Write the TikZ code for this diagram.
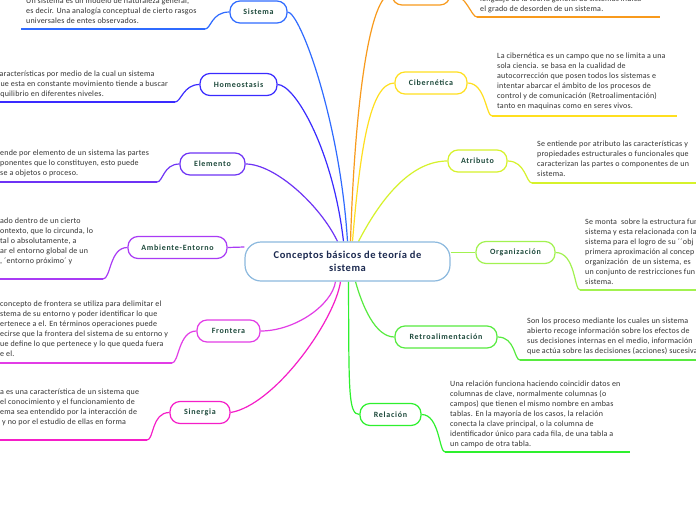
\documentclass[tikz,border=0pt]{standalone}
\usepackage{fontspec}
\setmainfont{Carlito}
\newfontfamily\descfont[LetterSpace=2.5]{Carlito}
\newfontfamily\labelfont[LetterSpace=9]{Carlito}
\newfontfamily\titlefont[LetterSpace=5]{Carlito}
\usetikzlibrary{backgrounds}
\definecolor{cSis}{HTML}{2F6BFF}
\definecolor{cHom}{HTML}{3A2BFF}
\definecolor{cEle}{HTML}{6E33F5}
\definecolor{cAmb}{HTML}{A93BF5}
\definecolor{cFro}{HTML}{E23CE6}
\definecolor{cSin}{HTML}{F51EC8}
\definecolor{cEnt}{HTML}{F89A1C}
\definecolor{cCib}{HTML}{FFDF1F}
\definecolor{cAtr}{HTML}{D6F22B}
\definecolor{cOrg}{HTML}{A2F250}
\definecolor{cRet}{HTML}{57EB3F}
\definecolor{cRel}{HTML}{2EF02E}
\definecolor{cCen}{HTML}{8CB9DE}
\definecolor{labelc}{HTML}{1E4A3C}
\definecolor{titlec}{HTML}{1C2A50}
\definecolor{descc}{HTML}{333333}
\begin{document}
\begin{tikzpicture}[x=1pt, y=-1pt,
  topic/.style={draw, fill=white, line width=1.2pt, rounded corners=10pt, minimum height=22pt,
    inner sep=0pt, font=\labelfont\fontsize{8}{9}\selectfont\bfseries, text=labelc},
  desc/.style={anchor=north west, align=left, inner sep=0pt, font=\descfont\fontsize{8}{10}\selectfont, text=descc},
  link/.style={line width=1.2pt},
  uline/.style={line width=2pt}]
\useasboundingbox (0,0) rectangle (696,520);
\clip (0,0) rectangle (696,520);
% centro
\node[draw=cCen, fill=white, line width=1.2pt, rounded corners=16pt, minimum width=205pt, minimum height=39pt,
  align=center, font=\titlefont\fontsize{10.5}{13}\selectfont\bfseries, text=titlec] (c) at (347.5,261.5)
  {Conceptos básicos de teoría de\\sistema};
% izquierda
\node[topic, draw=cSis, minimum width=57pt] (sis) at (258.5,12) {Sistema};
\node[topic, draw=cHom, minimum width=77pt] (hom) at (238.5,84.5) {Homeostasis};
\node[topic, draw=cEle, minimum width=65pt] (ele) at (212.5,164) {Elemento};
\node[topic, draw=cAmb, minimum width=99pt] (amb) at (177.5,247.5) {Ambiente-Entorno};
\node[topic, draw=cFro, minimum width=63pt] (fro) at (228.5,331) {Frontera};
\node[topic, draw=cSin, minimum width=60pt] (sin) at (200,412.5) {Sinergia};
% derecha
\node[topic, draw=cEnt, minimum width=58pt] (ent) at (421,-6) {};
\node[topic, draw=cCib, minimum width=72pt] (cib) at (431,83) {Cibernética};
\node[topic, draw=cAtr, minimum width=59pt] (atr) at (477.5,161) {Atributo};
\node[topic, draw=cOrg, minimum width=79pt] (org) at (515.5,252.5) {Organización};
\node[topic, draw=cRet, minimum width=102pt] (ret) at (446,337) {Retroalimentación};
\node[topic, draw=cRel, minimum width=61pt] (rel) at (390.5,414.5) {Relación};
% textos
\node[desc] (dsis) at (26,-2) {Un sistema es un modelo de naturaleza general,\\es decir. Una analogía conceptual de cierto rasgos\\universales de entes observados.};
\node[desc] (dhom) at (-4,71) {características por medio de la cual un sistema\\que esta en constante movimiento tiende a buscar\\equilibrio en diferentes niveles.};
\node[desc] (dele) at (0,150) {ende por elemento de un sistema las partes\\ponentes que lo constituyen, esto puede\\se a objetos o proceso.};
\node[desc] (damb) at (0,218) {ado dentro de un cierto\\ontexto, que lo circunda, lo\\tal o absolutamente, a\\ar el entorno global de un\\, ´entorno próximo´ y};
\node[desc] (dfro) at (0,301) {concepto de frontera se utiliza para delimitar el\\stema de su entorno y poder identificar lo que\\ertenece a el. En términos operaciones puede\\ecirse que la frontera del sistema de su entorno y\\ue define lo que pertenece y lo que queda fuera\\e el.};
\node[desc] (dsin) at (0,389) {a es una característica de un sistema que\\el conocimiento y el funcionamiento de\\ema sea entendido por la interacción de\\\ y no por el estudio de ellas en forma};
\node[desc] (dent) at (480,-4) {lenguaje de la teoría general de sistemas indica\\el grado de desorden de un sistema.};
\node[desc] (dcib) at (497,53) {La cibernética es un campo que no se limita a una\\sola ciencia. se basa en la cualidad de\\autocorrección que posen todos los sistemas e\\intentar abarcar el ámbito de los procesos de\\control y de comunicación (Retroalimentación)\\tanto en maquinas como en seres vivos.};
\node[desc] (datr) at (537,141) {Se entiende por atributo las características y\\propiedades estructurales o funcionales que\\caracterizan las partes o componentes de un\\sistema.};
\node[desc] (dorg) at (585,219) {Se monta \ sobre la estructura fun\\sistema y esta relacionada con la\\sistema para el logro de su ´´obj\\primera aproximación al concep\\organización \ de un sistema, es\\un conjunto de restricciones fun\\sistema.};
\node[desc] (dret) at (527,318) {Son los proceso mediante los cuales un sistema\\abierto recoge información sobre los efectos de\\sus decisiones internas en el medio, información\\que actúa sobre las decisiones (acciones) sucesivas};
\node[desc] (drel) at (450,381) {Una relación funciona haciendo coincidir datos en\\columnas de clave, normalmente columnas (o\\campos) que tienen el mismo nombre en ambas\\tablas. En la mayoría de los casos, la relación\\conecta la clave principal, o la columna de\\identificador único para cada fila, de una tabla a\\un campo de otra tabla.};
% subrayados
\coordinate (usisA) at (21,29);   \coordinate (usisB) at (205,29);
\coordinate (uhomA) at (-2,102);  \coordinate (uhomB) at (175,102);
\coordinate (ueleA) at (-2,182);  \coordinate (ueleB) at (157,182);
\coordinate (uambA) at (-2,279);  \coordinate (uambB) at (103,279);
\coordinate (ufroA) at (-2,363);  \coordinate (ufroB) at (172,363);
\coordinate (usinA) at (-2,440);  \coordinate (usinB) at (147,440);
\coordinate (uentA) at (477,17);  \coordinate (uentB) at (660,17);
\coordinate (ucibA) at (492,116); \coordinate (ucibB) at (677,116);
\coordinate (uatrA) at (532,183); \coordinate (uatrB) at (700,183);
\coordinate (uorgA) at (580,290); \coordinate (uorgB) at (700,290);
\coordinate (uretA) at (520,360); \coordinate (uretB) at (700,360);
\coordinate (urelA) at (445,452); \coordinate (urelB) at (630,452);
\begin{scope}[on background layer]
\fill[white] (0,0) rectangle (696,520);
% ramas
\draw[link, cSis] (c.north) .. controls (340,120) and (300,12) .. (sis.east);
\draw[link, cHom] ([xshift=-4pt]c.north) .. controls (333,150) and (295,84.5) .. (hom.east);
\draw[link, cEle] ([xshift=-10pt]c.north) .. controls (320,205) and (275,164) .. (ele.east);
\draw[link, cAmb] ([yshift=14.5pt]c.west) -- (amb.east);
\draw[link, cFro] ([xshift=-12pt]c.south) .. controls (332,305) and (295,331) .. (fro.east);
\draw[link, cSin] ([xshift=-7pt]c.south) .. controls (335,320) and (275,405) .. (sin.east);
\draw[link, cEnt] ([xshift=3pt]c.north) .. controls (355,100) and (370,-6) .. (ent.west);
\draw[link, cCib] ([xshift=5pt]c.north) .. controls (360,150) and (370,83) .. (cib.west);
\draw[link, cAtr] ([xshift=11pt]c.north) .. controls (380,200) and (410,161) .. (atr.west);
\draw[link, cOrg] ([yshift=9pt]c.east) -- (org.west);
\draw[link, cRet] ([xshift=8pt]c.south) .. controls (362,305) and (375,337) .. (ret.west);
\draw[link, cRel] ([xshift=1pt]c.south) .. controls (349,390) and (348,414.5) .. (rel.west);
% hacia los textos
\draw[link, cSis] (usisB) .. controls +(6,0) and +(-18,0) .. (sis.west);
\draw[link, cHom] (uhomB) .. controls +(6,0) and +(-16,0) .. (hom.west);
\draw[link, cEle] (ueleB) .. controls +(6,0) and +(-16,0) .. (ele.west);
\draw[link, cAmb] (uambB) .. controls +(8,0) and +(-18,0) .. (amb.west);
\draw[link, cFro] (ufroB) .. controls +(7,0) and +(-18,0) .. (fro.west);
\draw[link, cSin] (usinB) .. controls +(7,0) and +(-18,0) .. (sin.west);
\draw[link, cEnt] (ent.east) .. controls +(16,0) and +(-6,0) .. (uentA);
\draw[link, cCib] (cib.east) .. controls +(18,0) and +(-6,0) .. (ucibA);
\draw[link, cAtr] (atr.east) .. controls +(18,0) and +(-6,0) .. (uatrA);
\draw[link, cOrg] (org.east) .. controls +(20,0) and +(-6,0) .. (uorgA);
\draw[link, cRet] (ret.east) .. controls +(18,0) and +(-6,0) .. (uretA);
\draw[link, cRel] (rel.east) .. controls +(18,0) and +(-6,0) .. (urelA);
\end{scope}
% lineas bajo el texto
\draw[uline, cSis] (usisA) -- (usisB);
\draw[uline, cHom] (uhomA) -- (uhomB);
\draw[uline, cEle] (ueleA) -- (ueleB);
\draw[uline, cAmb] (uambA) -- (uambB);
\draw[uline, cFro] (ufroA) -- (ufroB);
\draw[uline, cSin] (usinA) -- (usinB);
\draw[uline, cEnt] (uentA) -- (uentB);
\draw[uline, cCib] (ucibA) -- (ucibB);
\draw[uline, cAtr] (uatrA) -- (uatrB);
\draw[uline, cOrg] (uorgA) -- (uorgB);
\draw[uline, cRet] (uretA) -- (uretB);
\draw[uline, cRel] (urelA) -- (urelB);
\end{tikzpicture}
\end{document}
